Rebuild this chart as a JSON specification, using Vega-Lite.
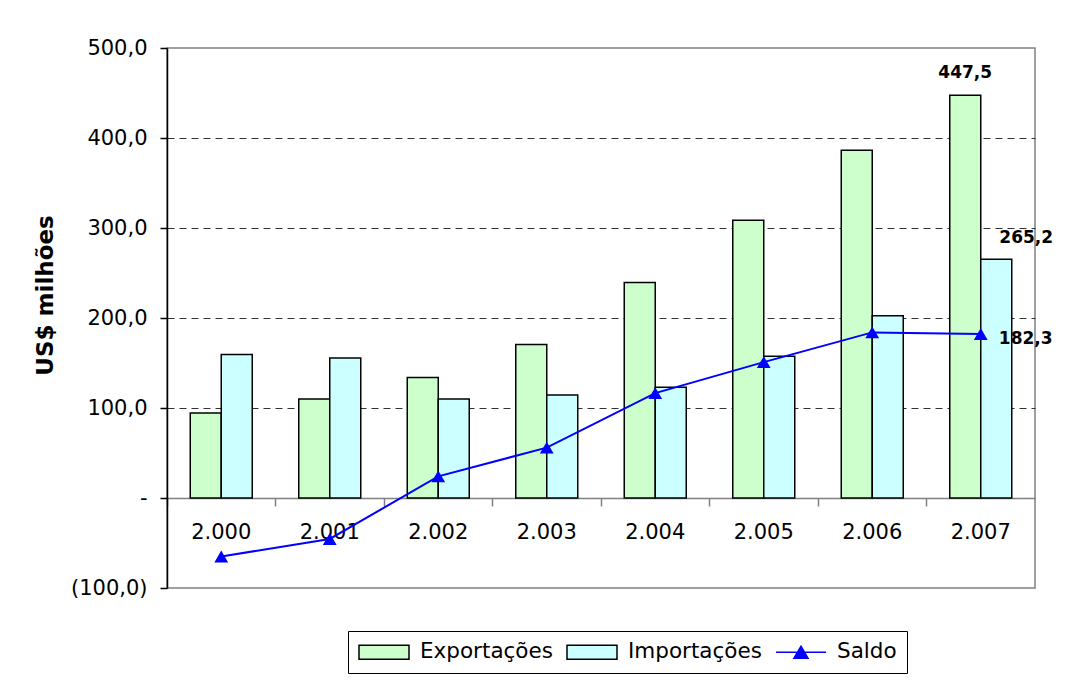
{
  "$schema": "https://vega.github.io/schema/vega-lite/v6.json",
  "width": 868,
  "height": 540,
  "autosize": {"type": "none"},
  "padding": {"left": 167, "top": 48, "right": 50, "bottom": 92},
  "background": "white",
  "config": {
    "font": "DejaVu Sans",
    "view": {"stroke": "#808080", "strokeWidth": 1.5},
    "locale": {"number": {"decimal": ",", "thousands": ".", "grouping": [3], "currency": ["US$", ""]}}
  },
  "data": {
    "values": [
      {"ano": "2.000", "serie": "Exportações", "valor": 94.5},
      {"ano": "2.000", "serie": "Importações", "valor": 159.5},
      {"ano": "2.000", "serie": "Saldo", "valor": -65.0},
      {"ano": "2.001", "serie": "Exportações", "valor": 110.0},
      {"ano": "2.001", "serie": "Importações", "valor": 155.5},
      {"ano": "2.001", "serie": "Saldo", "valor": -45.5},
      {"ano": "2.002", "serie": "Exportações", "valor": 134.0},
      {"ano": "2.002", "serie": "Importações", "valor": 110.0},
      {"ano": "2.002", "serie": "Saldo", "valor": 24.0},
      {"ano": "2.003", "serie": "Exportações", "valor": 170.5},
      {"ano": "2.003", "serie": "Importações", "valor": 114.5},
      {"ano": "2.003", "serie": "Saldo", "valor": 56.0},
      {"ano": "2.004", "serie": "Exportações", "valor": 239.5},
      {"ano": "2.004", "serie": "Importações", "valor": 123.0},
      {"ano": "2.004", "serie": "Saldo", "valor": 116.5},
      {"ano": "2.005", "serie": "Exportações", "valor": 308.5},
      {"ano": "2.005", "serie": "Importações", "valor": 157.5},
      {"ano": "2.005", "serie": "Saldo", "valor": 151.0},
      {"ano": "2.006", "serie": "Exportações", "valor": 386.5},
      {"ano": "2.006", "serie": "Importações", "valor": 202.5},
      {"ano": "2.006", "serie": "Saldo", "valor": 184.0},
      {"ano": "2.007", "serie": "Exportações", "valor": 447.5},
      {"ano": "2.007", "serie": "Importações", "valor": 265.2},
      {"ano": "2.007", "serie": "Saldo", "valor": 182.3}
    ]
  },
  "encoding": {
    "x": {
      "field": "ano",
      "type": "nominal",
      "scale": {"paddingInner": 0, "paddingOuter": 0},
      "axis": {
        "orient": "bottom",
        "offset": -90,
        "title": null,
        "bandPosition": 0,
        "labelAngle": 0,
        "labelFontSize": 21,
        "labelColor": "black",
        "labelPadding": 15,
        "tickSize": 8,
        "tickColor": "#808080",
        "tickWidth": 1.5,
        "domainColor": "#808080",
        "domainWidth": 1.5,
        "grid": false,
        "zindex": 0
      }
    },
    "y": {
      "field": "valor",
      "type": "quantitative",
      "scale": {"domain": [-100, 500], "nice": false, "zero": false},
      "axis": {
        "values": [-100, 0, 100, 200, 300, 400, 500],
        "labelExpr": "datum.value == 0 ? '-' : (datum.value < 0 ? '(' + replace(format(-datum.value, '.1f'), '.', ',') + ')' : replace(format(datum.value, '.1f'), '.', ','))",
        "labelFontSize": 21,
        "labelColor": "black",
        "labelPadding": 13,
        "tickSize": 7,
        "tickColor": "black",
        "tickWidth": 1.5,
        "domainColor": "black",
        "domainWidth": 1.5,
        "grid": true,
        "gridColor": {"condition": {"test": "datum.value > 0 && datum.value < 500", "value": "#333333"}, "value": "transparent"},
        "gridDash": [7, 5],
        "gridWidth": 1,
        "title": "US$ milhões",
        "titleFontSize": 23,
        "titleFontWeight": "bold",
        "titleColor": "black",
        "titleX": -122,
        "titleY": 247,
        "titleAngle": -90,
        "titleAlign": "center",
        "titleBaseline": "middle"
      }
    }
  },
  "layer": [
    {
      "transform": [{"filter": "datum.serie !== 'Saldo'"}],
      "mark": {"type": "bar", "stroke": "black", "strokeWidth": 1.5, "opacity": 1},
      "encoding": {
        "xOffset": {"field": "serie", "type": "nominal", "scale": {"paddingInner": 0, "paddingOuter": 0.75}},
        "color": {
          "field": "serie",
          "type": "nominal",
          "scale": {"domain": ["Exportações", "Importações", "Saldo"], "range": ["#CCFFCC", "#CCFFFF", "#0000FF"]},
          "legend": {
            "orient": "none",
            "legendX": 181,
            "legendY": 583,
            "direction": "horizontal",
            "title": null,
            "strokeColor": "black",
            "padding": 10,
            "labelFontSize": 21.5,
            "labelFont": "DejaVu Sans",
            "labelColor": "black",
            "labelOffset": 40,
            "columnPadding": 11,
            "symbolSize": 400,
            "symbolType": "M-1,-0.7H4V0.7H-1Z",
            "symbolStrokeWidth": 1.5,
            "symbolStrokeColor": "black",
            "symbolOpacity": 1,
            "encode": {
              "symbols": {
                "update": {
                  "shape": [
                    {"test": "datum.value === 'Saldo'", "value": "M-1,0H4M0.8,0.6L1.5,-0.6L2.2,0.6Z"},
                    {"value": "M-1,-0.7H4V0.7H-1Z"}
                  ],
                  "stroke": [
                    {"test": "datum.value === 'Saldo'", "value": "#0000FF"},
                    {"value": "black"}
                  ]
                }
              }
            }
          }
        }
      }
    },
    {
      "transform": [{"filter": "datum.serie === 'Saldo'"}],
      "mark": {"type": "line", "color": "#0000FF", "strokeWidth": 2}
    },
    {
      "transform": [{"filter": "datum.serie === 'Saldo'"}],
      "mark": {"type": "point", "shape": "triangle-up", "filled": true, "color": "#0000FF", "size": 190, "opacity": 1}
    },
    {
      "transform": [{"filter": "datum.ano === '2.007' && datum.serie === 'Exportações'"}],
      "mark": {"type": "text", "fontSize": 17, "fontWeight": "bold", "color": "black", "baseline": "middle", "align": "center", "dy": -22},
      "encoding": {
        "xOffset": {"field": "serie", "type": "nominal", "scale": {"domain": ["Exportações", "Importações"], "paddingInner": 0, "paddingOuter": 0.75}},
        "text": {"field": "valor", "type": "quantitative", "format": ".1f"}
      }
    },
    {
      "transform": [{"filter": "datum.ano === '2.007' && datum.serie === 'Importações'"}],
      "mark": {"type": "text", "fontSize": 17, "fontWeight": "bold", "color": "black", "baseline": "middle", "align": "center", "dx": 30, "dy": -21},
      "encoding": {
        "xOffset": {"field": "serie", "type": "nominal", "scale": {"domain": ["Exportações", "Importações"], "paddingInner": 0, "paddingOuter": 0.75}},
        "text": {"field": "valor", "type": "quantitative", "format": ".1f"}
      }
    },
    {
      "transform": [{"filter": "datum.ano === '2.007' && datum.serie === 'Saldo'"}],
      "mark": {"type": "text", "fontSize": 17, "fontWeight": "bold", "color": "black", "baseline": "middle", "align": "center", "dx": 45, "dy": 5},
      "encoding": {
        "text": {"field": "valor", "type": "quantitative", "format": ".1f"}
      }
    }
  ]
}
